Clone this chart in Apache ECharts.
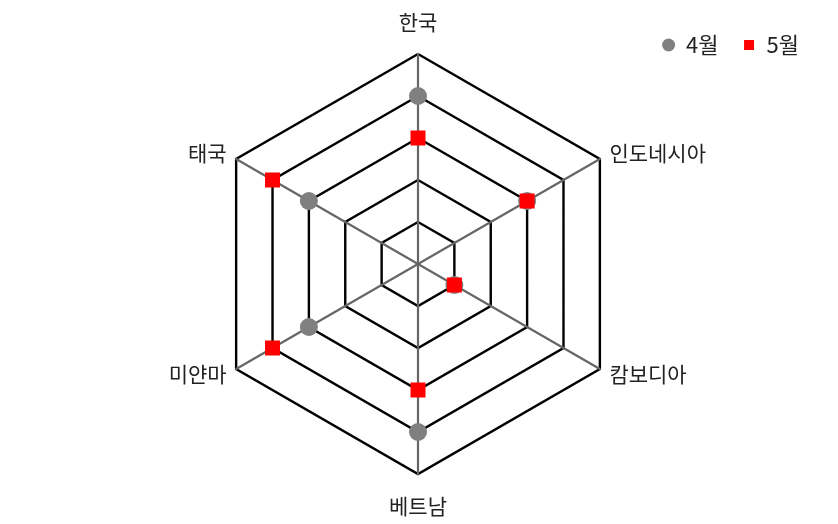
<!DOCTYPE html>
<html>
<head>
<meta charset="utf-8">
<script src="https://cdn.jsdelivr.net/npm/echarts@6/dist/echarts.min.js"></script>
<style>
html,body{margin:0;padding:0;background:#fff;}
#chart{width:838px;height:524px;}
</style>
</head>
<body>
<div id="chart"></div>
<script>
// Indicators listed counterclockwise from the top (ECharts radar order)
const indicators = ['한국', '태국', '미얀마', '베트남', '캄보디아', '인도네시아'];
const seriesNames = ['4월', '5월'];
const april = [4, 3, 3, 4, 1, 3];
const may = [3, 4, 4, 3, 1, 3];
const maxValue = 5;

const chart = echarts.init(document.getElementById('chart'));
const font = '"Noto Sans CJK KR", "Noto Sans", sans-serif';
chart.setOption({
  animation: false,
  legend: {
    data: [
      { name: seriesNames[0], icon: 'circle' },
      { name: seriesNames[1], icon: 'path://M0,0M13,13M1.5,1.5h10v10h-10z' }
    ],
    right: 34,
    top: 29,
    itemWidth: 13,
    itemHeight: 13,
    itemGap: 24,
    textStyle: { fontFamily: font, fontSize: 22, color: '#222', padding: [0, 0, 0, 6] }
  },
  radar: {
    center: [418, 264],
    radius: 210,
    startAngle: 90,
    splitNumber: 5,
    shape: 'polygon',
    indicator: indicators.map(n => ({ name: n, max: maxValue, min: 0 })),
    axisName: { color: '#222', fontFamily: font, fontSize: 21, lineHeight: 42 },
    nameGap: 11,
    splitLine: { lineStyle: { color: '#000', width: 2.4 } },
    splitArea: { show: false },
    axisLine: { lineStyle: { color: '#666', width: 2.2 } }
  },
  series: [{
    type: 'radar',
    data: [
      {
        name: seriesNames[0], value: april,
        symbol: 'circle', symbolSize: 18,
        itemStyle: { color: '#808080' },
        lineStyle: { width: 0, opacity: 0 }
      },
      {
        name: seriesNames[1], value: may,
        symbol: 'rect', symbolSize: 15,
        itemStyle: { color: '#ff0000' },
        lineStyle: { width: 0, opacity: 0 }
      }
    ]
  }]
});
</script>
</body>
</html>
